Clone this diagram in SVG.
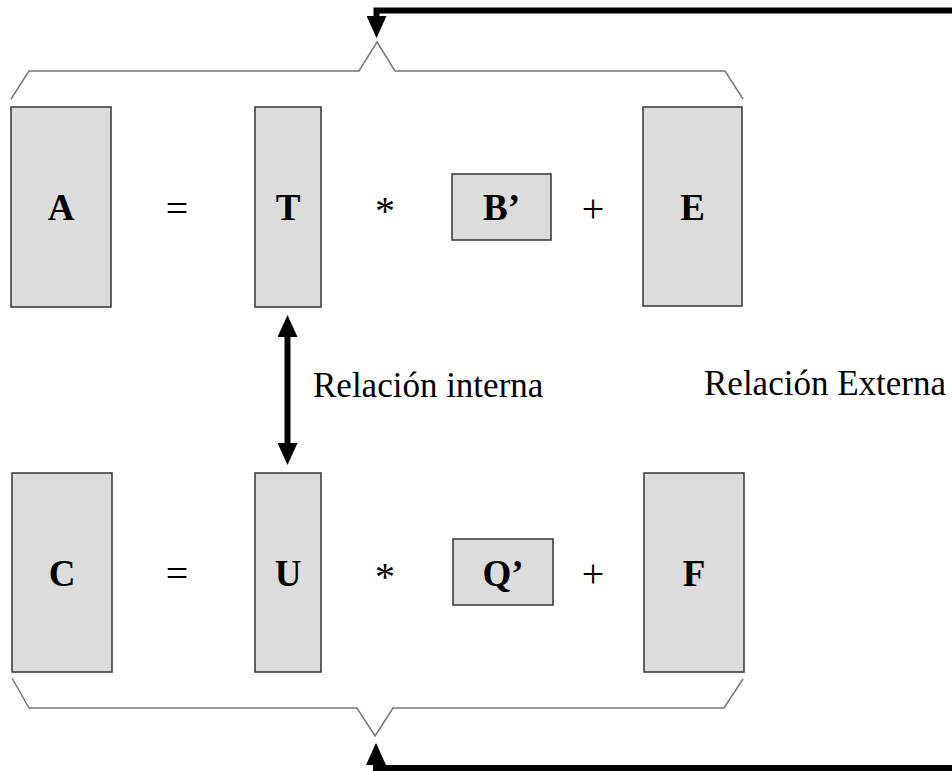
<svg xmlns="http://www.w3.org/2000/svg" width="952" height="771" viewBox="0 0 952 771">
<style>
.box{fill:#dcdcdc;stroke:#333;stroke-width:1.5}
.lbl{font-family:"Liberation Serif","Times New Roman",serif;font-size:37px;font-weight:bold;text-anchor:middle;fill:#000}
.op{font-family:"Liberation Serif","Times New Roman",serif;font-size:40px;text-anchor:middle;fill:#000}
.txt{font-family:"Liberation Serif","Times New Roman",serif;font-size:35px;fill:#000}
.brace{fill:none;stroke:#777;stroke-width:1.5}
.conn{fill:none;stroke:#000;stroke-width:6}
</style>
<defs>
<marker id="ah" viewBox="0 0 22 20" refX="0" refY="10" markerWidth="22" markerHeight="20" markerUnits="userSpaceOnUse" orient="auto-start-reverse">
<path d="M0,0 L22,10 L0,20 z" fill="#000"/>
</marker>
</defs>
<g id="brace-top"><polyline class="brace" points="11,99 29,71 359,71 377,42 395,71 725,71 743,99"/></g>
<g id="brace-bottom"><polyline class="brace" points="12,678 29,708 357,708 375,736 393,708 724,708 743,679"/></g>
<g id="node-A"><rect class="box" x="11" y="107" width="100" height="200"/><text class="lbl" x="61" y="220">A</text></g>
<g id="op-eq1"><text class="op" x="177" y="222">=</text></g>
<g id="node-T"><rect class="box" x="255" y="107" width="66" height="200"/><text class="lbl" x="288" y="220">T</text></g>
<g id="op-mul1"><text class="op" x="385" y="224">*</text></g>
<g id="node-B"><rect class="box" x="452" y="174" width="99" height="66"/><text class="lbl" x="501.5" y="220">B’</text></g>
<g id="op-plus1"><text class="op" x="593" y="222">+</text></g>
<g id="node-E"><rect class="box" x="643" y="107" width="99" height="199"/><text class="lbl" x="692.5" y="220">E</text></g>
<g id="node-C"><rect class="box" x="12" y="473" width="100" height="199"/><text class="lbl" x="62" y="586">C</text></g>
<g id="op-eq2"><text class="op" x="177" y="587">=</text></g>
<g id="node-U"><rect class="box" x="255" y="473" width="66" height="199"/><text class="lbl" x="288" y="586">U</text></g>
<g id="op-mul2"><text class="op" x="385" y="590">*</text></g>
<g id="node-Q"><rect class="box" x="453" y="539" width="100" height="66"/><text class="lbl" x="503" y="586">Q’</text></g>
<g id="op-plus2"><text class="op" x="593" y="587">+</text></g>
<g id="node-F"><rect class="box" x="644" y="473" width="100" height="199"/><text class="lbl" x="694" y="586">F</text></g>
<g id="connectors">
<path class="conn" d="M 960 10.5 H 376.5 V 16" marker-end="url(#ah)"/>
<path class="conn" d="M 960 768 H 376 V 765" marker-end="url(#ah)"/>
<path class="conn" d="M 287.5 337 V 443" marker-start="url(#ah)" marker-end="url(#ah)"/>
</g>
<g id="label-interna"><text class="txt" x="313" y="397">Relación interna</text></g>
<g id="label-externa"><text class="txt" x="704" y="395">Relación Externa</text></g>
</svg>
